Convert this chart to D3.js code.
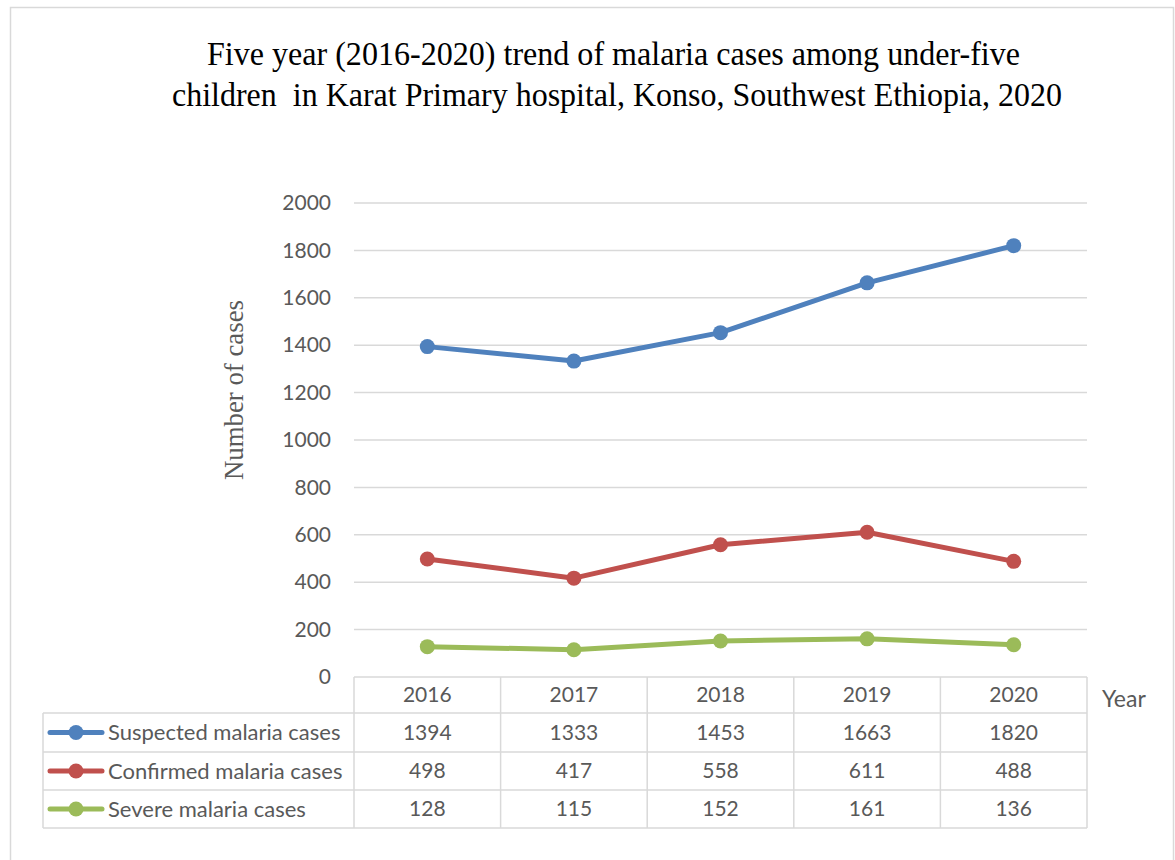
<!DOCTYPE html>
<html>
<head>
<meta charset="utf-8">
<script src="https://cdn.jsdelivr.net/npm/d3@7"></script>
<style>
  html, body { margin: 0; padding: 0; background: #fff; }
  svg { display: block; }
</style>
</head>
<body>
<svg id="chart" width="1175" height="860"></svg>
<script>
// Malaria cases among under-five children, Karat Primary hospital, 2016-2020
const years = ["2016", "2017", "2018", "2019", "2020"];
const suspected = [1394, 1333, 1453, 1663, 1820];
const confirmed = [498, 417, 558, 611, 488];
const severe = [128, 115, 152, 161, 136];
const yTicks = [0, 200, 400, 600, 800, 1000, 1200, 1400, 1600, 1800, 2000];
const seriesNames = ["Suspected malaria cases", "Confirmed malaria cases", "Severe malaria cases"];
const seriesColors = ["#4F81BD", "#C0504D", "#9BBB59"];

const series = [suspected, confirmed, severe].map((values, i) => ({
  name: seriesNames[i], color: seriesColors[i], values
}));

const svg = d3.select("#chart");
const grid = "#D9D9D9";
const textColor = "#595959";
const sansFont = "Lato, 'Open Sans', sans-serif";
const serifFont = "'Liberation Serif', 'Times New Roman', serif";

// chart frame
svg.append("rect")
  .attr("x", 10.5).attr("y", 7.5).attr("width", 1163).attr("height", 870)
  .attr("fill", "#fff").attr("stroke", grid).attr("stroke-width", 1.5);

// title (condensed serif, two lines)
const title = svg.append("text")
  .attr("font-family", serifFont).attr("font-size", 33).attr("fill", "#000");
title.append("tspan").attr("x", 207).attr("y", 65)
  .attr("textLength", 813).attr("lengthAdjust", "spacingAndGlyphs")
  .text("Five year (2016-2020) trend of malaria cases among under-five");
title.append("tspan").attr("x", 172).attr("y", 106)
  .attr("textLength", 890).attr("lengthAdjust", "spacingAndGlyphs")
  .text("children\u00a0 in Karat Primary hospital, Konso, Southwest Ethiopia, 2020");

// plot area
const plotLeft = 354, plotRight = 1087, plotTop = 203, plotBottom = 677;
const x = d3.scaleBand().domain(years).range([plotLeft, plotRight]);
const y = d3.scaleLinear().domain([0, 2000]).range([plotBottom, plotTop]);

// horizontal gridlines
svg.append("g")
  .selectAll("line")
  .data(yTicks.filter(d => d > 0))
  .join("line")
  .attr("x1", plotLeft).attr("x2", plotRight)
  .attr("y1", d => y(d)).attr("y2", d => y(d))
  .attr("stroke", grid).attr("stroke-width", 1.5);

// y axis labels
const yAxis = svg.append("g")
  .attr("transform", `translate(${plotLeft},0)`)
  .call(d3.axisLeft(y).tickValues(yTicks).tickSize(0).tickPadding(23).tickFormat(d3.format("d")));
yAxis.select(".domain").remove();
yAxis.selectAll("text")
  .attr("font-family", sansFont).attr("font-size", 21).attr("fill", textColor);

// y axis title
svg.append("text")
  .attr("transform", "translate(243,390) rotate(-90)")
  .attr("text-anchor", "middle")
  .attr("font-family", serifFont).attr("font-size", 27).attr("fill", "#595959")
  .attr("textLength", 180).attr("lengthAdjust", "spacingAndGlyphs")
  .text("Number of cases");

// lines and markers
const line = d3.line()
  .x((d, i) => x(years[i]) + x.bandwidth() / 2)
  .y(d => y(d));

const sg = svg.append("g").selectAll("g").data(series).join("g");
sg.append("path")
  .attr("d", d => line(d.values))
  .attr("fill", "none")
  .attr("stroke", d => d.color)
  .attr("stroke-width", 5)
  .attr("stroke-linejoin", "round");
sg.selectAll("circle")
  .data(d => d.values.map((v, i) => ({ v, i, color: d.color })))
  .join("circle")
  .attr("cx", d => x(years[d.i]) + x.bandwidth() / 2)
  .attr("cy", d => y(d.v))
  .attr("r", 7.5)
  .attr("fill", d => d.color);

// data table below the plot
const rowEdges = [677, 713, 752, 790, 828];
const tableLeft = 43;
const tg = svg.append("g");

// horizontal table rules
tg.append("line").attr("x1", plotLeft).attr("x2", plotRight).attr("y1", rowEdges[0]).attr("y2", rowEdges[0])
  .attr("stroke", grid).attr("stroke-width", 1.5);
rowEdges.slice(1).forEach(ry => {
  tg.append("line").attr("x1", tableLeft).attr("x2", plotRight).attr("y1", ry).attr("y2", ry)
    .attr("stroke", grid).attr("stroke-width", 1.5);
});
// vertical table rules
const colEdges = years.map(yr => x(yr)).concat([plotRight]);
colEdges.forEach(cx => {
  tg.append("line").attr("x1", cx).attr("x2", cx).attr("y1", rowEdges[0]).attr("y2", rowEdges[4])
    .attr("stroke", grid).attr("stroke-width", 1.5);
});
tg.append("line").attr("x1", tableLeft).attr("x2", tableLeft).attr("y1", rowEdges[1]).attr("y2", rowEdges[4])
  .attr("stroke", grid).attr("stroke-width", 1.5);

// header row: years
tg.selectAll("text.year")
  .data(years)
  .join("text")
  .attr("class", "year")
  .attr("x", d => x(d) + x.bandwidth() / 2)
  .attr("y", (rowEdges[0] + rowEdges[1]) / 2)
  .attr("dy", "0.35em")
  .attr("text-anchor", "middle")
  .attr("font-family", sansFont).attr("font-size", 21).attr("fill", textColor)
  .text(d => d);

// axis name to the right of the header row
svg.append("text")
  .attr("x", 1102).attr("y", (rowEdges[0] + rowEdges[1]) / 2 + 4)
  .attr("dy", "0.35em")
  .attr("font-family", sansFont).attr("font-size", 23).attr("fill", textColor)
  .text("Year");

// series rows: legend key, name and values
series.forEach((s, r) => {
  const cy = (rowEdges[r + 1] + rowEdges[r + 2]) / 2;
  tg.append("line").attr("x1", 50).attr("x2", 102).attr("y1", cy).attr("y2", cy)
    .attr("stroke", s.color).attr("stroke-width", 5).attr("stroke-linecap", "round");
  tg.append("circle").attr("cx", 76).attr("cy", cy).attr("r", 7.5).attr("fill", s.color);
  tg.append("text")
    .attr("x", 108).attr("y", cy).attr("dy", "0.35em")
    .attr("font-family", sansFont).attr("font-size", 22).attr("fill", textColor)
    .text(s.name);
  tg.selectAll(null)
    .data(s.values)
    .join("text")
    .attr("x", (d, i) => x(years[i]) + x.bandwidth() / 2)
    .attr("y", cy).attr("dy", "0.35em")
    .attr("text-anchor", "middle")
    .attr("font-family", sansFont).attr("font-size", 21).attr("fill", textColor)
    .text(d => d);
});
</script>
</body>
</html>
